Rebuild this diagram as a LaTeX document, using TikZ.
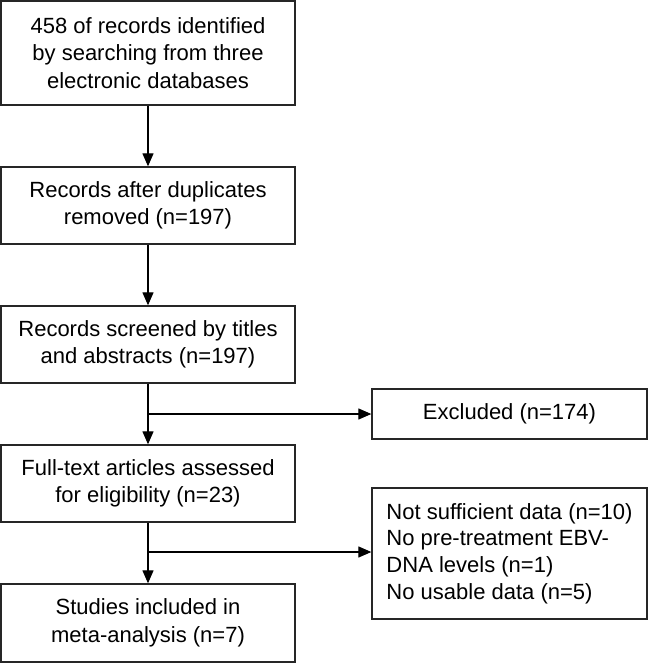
\documentclass[tikz,border=0pt]{standalone}
\usepackage{fontspec}
\setmainfont{Liberation Sans}
\usetikzlibrary{arrows.meta}
\begin{document}
\begin{tikzpicture}[x=1pt,y=-1pt,
  box/.style={draw=black!85, line width=1.3pt, align=center, inner sep=0pt,
    font=\fontsize{22}{27.6}\selectfont},
  lbox/.style={draw=black!85, line width=1.3pt, align=left, inner sep=0pt,
    font=\fontsize{22}{26.8}\selectfont},
  conn/.style={line width=1.2pt, -{Triangle[length=13pt,width=11pt]}},
  seg/.style={line width=1.2pt}]
\useasboundingbox (0,0) rectangle (648,663);
\node[box, minimum width=294pt, minimum height=104pt] (b1) at (148,53)
  {458 of records identified\\by searching from three\\electronic databases};
\node[box, minimum width=294pt, minimum height=77pt] (b2) at (148,205.5)
  {Records after duplicates\\removed (n=197)};
\node[box, minimum width=294pt, minimum height=77pt] (b3) at (148,344.5)
  {Records screened by titles\\and abstracts (n=197)};
\node[box, minimum width=294pt, minimum height=77pt] (b4) at (148,483.5)
  {Full-text articles assessed\\for eligibility (n=23)};
\node[box, minimum width=294pt, minimum height=78pt] (b5) at (148,623)
  {Studies included in\\meta-analysis (n=7)};
\node[box, minimum width=275pt, minimum height=50pt] (ex1) at (509.5,414)
  {Excluded (n=174)};
\node[lbox, minimum width=275pt, minimum height=131pt] (ex2) at (509.5,553.5)
  {Not sufficient data (n=10)\\No pre-treatment EBV-\\DNA levels (n=1)\\No usable data (n=5)};
\coordinate (j1) at (148,414);
\coordinate (j2) at (148,552);
\draw[conn] (b1) -- (b2);
\draw[conn] (b2) -- (b3);
\draw[conn] (b3) -- (b4);
\draw[conn] (b4) -- (b5);
\draw[conn] (j1) -- (ex1.west);
\draw[conn] (j2) -- (j2 -| ex2.west);
\end{tikzpicture}
\end{document}
